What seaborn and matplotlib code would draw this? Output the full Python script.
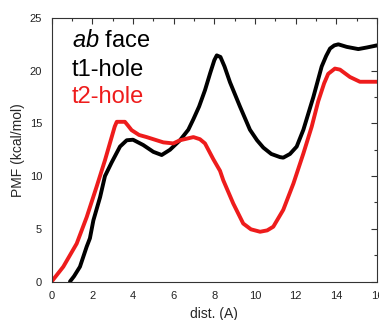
import matplotlib
matplotlib.use("Agg")
import matplotlib.pyplot as plt
import seaborn as sns
import pandas as pd
from matplotlib.ticker import MultipleLocator

# t1-hole (black) PMF curve
t1_x = [0.9, 1.1, 1.39, 1.72, 1.88, 2.05, 2.38, 2.62, 2.95, 3.36, 3.69, 4.0, 4.5, 5.0,
        5.41, 5.82, 6.31, 6.72, 6.97, 7.25, 7.54, 7.8, 8.0, 8.12, 8.3, 8.5, 8.77, 9.26,
        9.75, 10.1, 10.41, 10.8, 11.23, 11.39, 11.72, 12.05, 12.38, 12.87, 13.28, 13.5,
        13.69, 13.9, 14.1, 14.51, 15.08, 15.5, 16.0]
t1_y = [0.0, 0.5, 1.4, 3.3, 4.1, 5.8, 8.0, 10.0, 11.3, 12.8, 13.4, 13.45, 12.95, 12.3,
        12.0, 12.5, 13.4, 14.4, 15.4, 16.6, 18.15, 19.8, 21.0, 21.45, 21.3, 20.4, 18.9, 16.6,
        14.4, 13.4, 12.7, 12.1, 11.8, 11.75, 12.1, 12.8, 14.4, 17.5, 20.4, 21.4,
        22.1, 22.4, 22.5, 22.26, 22.05, 22.2, 22.4]

# t2-hole (red) PMF curve
t2_x = [0.0, 0.57, 1.23, 1.72, 2.21, 2.62, 2.95, 3.1, 3.2, 3.6, 3.75, 3.93, 4.3, 4.67,
        5.49, 5.98, 6.31, 6.97, 7.29, 7.54, 7.95, 8.28, 8.44, 8.93, 9.42, 9.8, 10.25,
        10.6, 10.9, 11.39, 11.89, 12.38, 12.79, 13.11, 13.4, 13.6, 13.93, 14.18, 14.67,
        15.16, 16.0]
t2_y = [0.0, 1.4, 3.6, 6.1, 9.0, 11.5, 13.7, 14.7, 15.15, 15.15, 14.8, 14.36, 13.9, 13.7,
        13.2, 13.1, 13.4, 13.7, 13.5, 13.1, 11.6, 10.5, 9.6, 7.4, 5.5, 4.95, 4.72,
        4.85, 5.2, 6.8, 9.3, 12.15, 14.7, 17.1, 18.8, 19.7, 20.2, 20.1, 19.4,
        18.95, 18.95]

x_ticks = [0, 2, 4, 6, 8, 10, 12, 14, 16]
y_ticks = [0, 5, 10, 15, 20, 25]

sns.set_style("white")
plt.rcParams['font.family'] = ['Liberation Sans', 'DejaVu Sans']
plt.rcParams['mathtext.fontset'] = 'custom'
plt.rcParams['mathtext.it'] = 'Liberation Sans:italic'
plt.rcParams['mathtext.rm'] = 'Liberation Sans'

fig = plt.figure(figsize=(3.79, 3.2), dpi=100)
ax = fig.add_axes([0.1364, 0.1203, 0.8583, 0.8235])

df1 = pd.DataFrame({"x": t1_x, "y": t1_y})
df2 = pd.DataFrame({"x": t2_x, "y": t2_y})
sns.lineplot(data=df1, x="x", y="y", ax=ax, color="black", lw=2.8, sort=False, estimator=None)
sns.lineplot(data=df2, x="x", y="y", ax=ax, color="#ee1c1c", lw=2.8, sort=False, estimator=None)

ax.set_xlim(0, 16)
ax.set_ylim(0, 25)
ax.set_xticks(x_ticks)
ax.set_yticks(y_ticks)
ax.xaxis.set_minor_locator(MultipleLocator(1))
ax.yaxis.set_minor_locator(MultipleLocator(2.5))
ax.tick_params(which='both', direction='in', top=True, right=True, width=0.8, color='#333333')
ax.tick_params(which='major', length=4, labelsize=8, pad=7, labelcolor='#222222')
ax.tick_params(which='minor', length=2)
for s in ax.spines.values():
    s.set_linewidth(0.8)
    s.set_color('#333333')

ax.set_xlabel("dist. (A)", fontsize=10, labelpad=4)
ax.set_ylabel("PMF (kcal/mol)", fontsize=10, labelpad=3)

ax.text(1.0, 22.2, r"$\mathit{ab}$ face", fontsize=17, va='baseline', ha='left', color='black')
ax.text(1.0, 19.5, "t1-hole", fontsize=17, va='baseline', ha='left', color='black')
ax.text(1.0, 16.9, "t2-hole", fontsize=17, va='baseline', ha='left', color='#ee1c1c')

fig.savefig("out.png", dpi=100)
